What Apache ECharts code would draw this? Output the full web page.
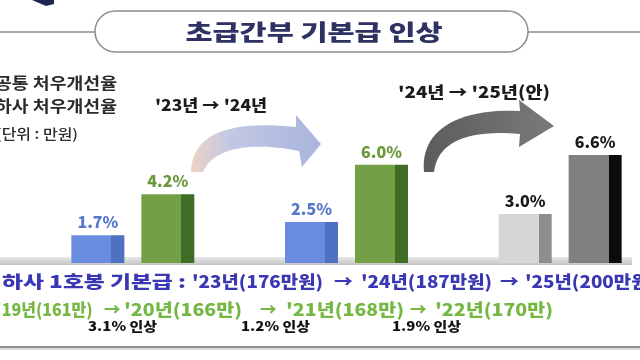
<!DOCTYPE html>
<html><head><meta charset="utf-8">
<script src="https://cdn.jsdelivr.net/npm/echarts@6/dist/echarts.min.js"></script>
<style>html,body{margin:0;padding:0;background:#fff}#c{width:640px;height:360px}</style>
</head><body><div id="c"></div>
<script>
// ---- data ----
const categories = ["'23년", "'24년", "'25년(안)"];
const commonRate = [1.7, 2.5, 3.0];
const hasaRate = [4.2, 6.0, 6.6];
const seriesNames = ['공통 처우개선율', '하사 처우개선율'];
const unitNote = '(단위 : 만원)';
const title = '초급간부 기본급 인상';
const payLabel = '하사 1호봉 기본급 :';
const payYears = ["'23년", "'24년", "'25년"];
const payValues = [176, 187, 200];
const pastYears = ["'19년", "'20년", "'21년", "'22년"];
const pastValues = [161, 166, 168, 170];
const pastRaise = ['3.1%', '1.2%', '1.9%'];

// ---- styles ----
const FONT = '"Noto Sans CJK KR", sans-serif';
const frontCommon = ['#6a8ce0', '#6a8ce0', '#d6d6d6'];
const sideCommon = ['#4e71c2', '#4e71c2', '#8e8e8e'];
const frontHasa = ['#73a046', '#73a046', '#808080'];
const sideHasa = ['#3f6d27', '#3f6d27', '#0c0c0c'];
const labelCommon = ['#5677cc', '#5677cc', '#1a1a1a'];
const labelHasa = ['#69993a', '#69993a', '#1a1a1a'];

const ctx = document.createElement('canvas').getContext('2d');
function txt(text, x, y, o) {
  const size = o.size || 16, weight = o.weight || 900, align = o.align || 'left';
  const font = weight + ' ' + size + 'px ' + FONT;
  let sx = o.scale || 1;
  if (o.width) { ctx.font = font; sx = o.width / ctx.measureText(text).width; }
  return { type: 'text', x: x, y: y, scaleX: sx, z: 10,
    style: { text: text, font: font, fill: o.color || '#222', textAlign: align, textVerticalAlign: 'middle', align: align, verticalAlign: 'middle' } };
}
function scaleFor(text, size, weight, width) {
  ctx.font = weight + ' ' + size + 'px ' + FONT;
  return width / ctx.measureText(text).width;
}
function bez(p0, p1, p2, p3, n) {
  const pts = [];
  for (let i = 0; i <= n; i++) {
    const t = i / n, u = 1 - t;
    pts.push([u*u*u*p0[0] + 3*u*u*t*p1[0] + 3*u*t*t*p2[0] + t*t*t*p3[0],
              u*u*u*p0[1] + 3*u*u*t*p1[1] + 3*u*t*t*p2[1] + t*t*t*p3[1]]);
  }
  return pts;
}
function grad(front, side) {
  return new echarts.graphic.LinearGradient(0, 0, 1, 0, [
    { offset: 0, color: front }, { offset: 0.755, color: front },
    { offset: 0.755, color: side }, { offset: 1, color: side }]);
}

const arrow1 = [].concat(
  bez([191,172],[192,134],[228,120],[296,127],24),
  [[296,115],[321,144],[302,167]],
  bez([299,151],[255,142],[214,146],[203,172],24));
const arrow2 = [].concat(
  bez([424,172],[420,132],[455,108],[520,111],24),
  [[519,100],[554,126],[519,147]],
  bez([520,134],[475,130],[438,138],[434,172],24));

const graphics = [
  { type: 'polygon', shape: { points: [[32,0],[54,0],[54,4],[46,6]] }, style: { fill: '#1f2350' } },
  { type: 'line', shape: { x1: 0, y1: 32, x2: 95, y2: 32 }, style: { stroke: '#8c8c8c', lineWidth: 1.5 } },
  { type: 'line', shape: { x1: 528, y1: 32, x2: 640, y2: 32 }, style: { stroke: '#8c8c8c', lineWidth: 1.5 } },
  { type: 'rect', shape: { x: 95, y: 11, width: 433, height: 41, r: 20.5 }, style: { fill: '#fff', stroke: '#8c8c8c', lineWidth: 1.5 } },
  txt(title, 314, 32, { size: 22, width: 257, align: 'center', color: '#2e3262' }),
  txt(seriesNames[0], 117, 83, { size: 16, weight: 700, width: 122, align: 'right', color: '#2b2b2b' }),
  txt(seriesNames[1], 117, 106, { size: 16, weight: 700, width: 122, align: 'right', color: '#2b2b2b' }),
  txt(unitNote, 78, 134, { size: 14, weight: 500, width: 82, align: 'right', color: '#2b2b2b' }),
  txt(categories[0] + ' → ' + categories[1], 155, 105, { size: 16, width: 112, color: '#1b1b1b' }),
  txt(categories[1] + ' → ' + categories[2], 398, 92, { size: 16, width: 152, color: '#1b1b1b' }),
  { type: 'polygon', shape: { points: arrow1 }, z: 1,
    style: { fill: new echarts.graphic.LinearGradient(0, 0, 1, 0, [
      { offset: 0, color: '#ecd3c5' }, { offset: 0.3, color: '#c2c8e3' }, { offset: 1, color: '#a9b5de' }]) } },
  { type: 'polygon', shape: { points: arrow2 }, z: 1,
    style: { fill: new echarts.graphic.LinearGradient(0, 0, 1, 0, [
      { offset: 0, color: '#5c5c5c' }, { offset: 1, color: '#7a7a7a' }]) } },
  { type: 'rect', shape: { x: 0, y: 257, width: 632, height: 8 }, z: 0,
    style: { fill: new echarts.graphic.LinearGradient(0, 0, 0, 1, [
      { offset: 0, color: '#e8e8e8' }, { offset: 1, color: '#c4c4c4' }]) } },
  { type: 'line', shape: { x1: 0, y1: 349, x2: 640, y2: 349 }, style: { stroke: '#dcdcdc', lineWidth: 2 } },
  { type: 'line', shape: { x1: 0, y1: 347, x2: 640, y2: 347 }, style: { stroke: '#8f8f8f', lineWidth: 2 } }
];

// line 1
const BLUE = '#3a37b4';
graphics.push(txt(payLabel, 2, 282, { size: 17, width: 184, color: BLUE }));
const payStarts = [192, 361, 525];
const arrowStarts1 = [334, 500];
const s1 = scaleFor(payYears[0] + '(' + payValues[0] + '만원)', 17, 900, 131);
payYears.forEach((y, i) => {
  graphics.push(txt(y + '(' + payValues[i] + '만원)', payStarts[i], 282, { size: 17, scale: s1, color: BLUE }));
});
arrowStarts1.forEach(x => graphics.push(txt('→', x, 282, { size: 17, scale: s1, color: BLUE })));

// line 2
const GREEN = '#74b843';
const s2 = scaleFor(pastYears[1] + '(' + pastValues[1] + '만)', 17, 900, 118);
const pastStarts = [-4, 124, 286, 435];
pastYears.forEach((y, i) => {
  graphics.push(txt(y + '(' + pastValues[i] + '만)', pastStarts[i], 310,
    { size: 17, scale: i === 0 ? s2 * 0.82 : s2, color: GREEN }));
});
[104, 260, 410].forEach(x => graphics.push(txt('→', x, 310, { size: 17, scale: s2 * 0.85, color: GREEN })));

// line 3
const raiseStarts = [88, 241, 392];
pastRaise.forEach((r, i) => {
  graphics.push(txt(r + ' 인상', raiseStarts[i], 326, { size: 13, width: 69, color: '#111' }));
});

const chart = echarts.init(document.getElementById('c'));
chart.setOption({
  animation: false,
  backgroundColor: '#fff',
  grid: { left: 26, width: 641, top: 132, height: 131, outerBoundsMode: 'none', containLabel: false },
  xAxis: { type: 'category', data: categories, show: false },
  yAxis: { type: 'value', min: 0, max: 8, show: false },
  graphic: { elements: graphics },
  series: [
    { name: seriesNames[0], type: 'bar', barWidth: 53, barGap: '32%', z: 3,
      data: commonRate.map((v, i) => ({ value: v,
        itemStyle: { color: grad(frontCommon[i], sideCommon[i]) },
        label: { color: labelCommon[i] } })),
      label: { show: true, position: 'top', distance: 5, fontSize: 16, fontWeight: 900, fontFamily: FONT,
        formatter: p => p.value.toFixed(1) + '%' } },
    { name: seriesNames[1], type: 'bar', barWidth: 53, barGap: '32%', z: 3,
      data: hasaRate.map((v, i) => ({ value: v,
        itemStyle: { color: grad(frontHasa[i], sideHasa[i]) },
        label: { color: labelHasa[i] } })),
      label: { show: true, position: 'top', distance: 5, fontSize: 16, fontWeight: 900, fontFamily: FONT,
        formatter: p => p.value.toFixed(1) + '%' } }
  ]
});
</script></body></html>
